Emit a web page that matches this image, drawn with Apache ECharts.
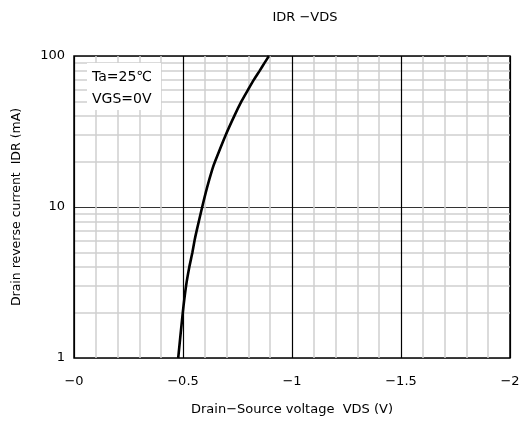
<!DOCTYPE html>
<html>
<head>
<meta charset="utf-8">
<script src="https://cdn.jsdelivr.net/npm/echarts@6/dist/echarts.min.js"></script>
<style>
  html, body { margin: 0; padding: 0; background: #fff; }
  #chart { width: 527px; height: 423px; }
</style>
</head>
<body>
<div id="chart"></div>
<script>
// 曲线数据 (VDS 单位 V, IDR 单位 mA)
const vds = [-0.478, -0.499, -0.514, -0.529, -0.543, -0.553, -0.563, -0.588, -0.610, -0.634, -0.647, -0.696, -0.735, -0.768, -0.799, -0.826, -0.852, -0.874, -0.894];
const idr = [1, 2, 3, 4, 5, 6, 7, 10, 13.4, 17.7, 20, 30, 40, 50, 60, 70, 80, 90, 100];

// 对数坐标的次网格线
const minorY = [2, 3, 4, 5, 6, 7, 8, 9, 20, 30, 40, 50, 60, 70, 80, 90];

// 注释文字
const noteLines = ['Ta=25℃', 'VGS=0V'];

const font = '"DejaVu Sans", "Noto Sans CJK JP", sans-serif';

var myChart = echarts.init(document.getElementById('chart'));

var option = {
    animation: false,
    textStyle: { fontFamily: font },
    title: {
        text: 'IDR −VDS',
        left: 300,
        top: 6,
        textAlign: 'center',
        textStyle: { fontSize: 13, fontWeight: 'normal', color: '#000', fontFamily: font }
    },
    grid: {
        left: 74,
        right: 17,
        top: 56,
        bottom: 65,
        show: true,
        borderColor: '#000',
        borderWidth: 1.5,
        backgroundColor: '#fff'
    },
    xAxis: {
        type: 'value',
        inverse: true,
        min: -2,
        max: 0,
        interval: 0.5,
        z: 2,
        name: 'Drain−Source voltage  VDS (V)',
        nameLocation: 'middle',
        nameGap: 45,
        nameTextStyle: { fontSize: 13, color: '#000', fontFamily: font },
        axisLine: { show: false },
        axisTick: { show: false },
        axisLabel: {
            color: '#000',
            fontSize: 13,
            margin: 17,
            fontFamily: font,
            formatter: function (v) {
                return v === 0 ? '−0' : String(v).replace('-', '−');
            }
        },
        splitLine: { show: true, lineStyle: { color: '#000', width: 1.2 } },
        minorTick: { show: false, splitNumber: 5 },
        minorSplitLine: { show: true, lineStyle: { color: '#cfcfcf', width: 1.5 } }
    },
    yAxis: {
        type: 'log',
        logBase: 10,
        min: 1,
        max: 100,
        z: 2,
        name: 'Drain reverse current  IDR (mA)',
        nameLocation: 'middle',
        nameGap: 51,
        nameTextStyle: { fontSize: 12.5, color: '#000', fontFamily: font },
        axisLine: { show: false },
        axisTick: { show: false },
        axisLabel: { color: '#000', fontSize: 13, margin: 9, fontFamily: font },
        splitLine: { show: true, lineStyle: { color: '#333', width: 1.2 } }
    },
    graphic: [{
        type: 'rect',
        shape: { x: 87, y: 63, width: 74, height: 47 },
        style: { fill: '#fff' },
        z: 10
    }, {
        type: 'text',
        x: 92,
        y: 66,
        style: {
            text: noteLines.join('\n'),
            font: '14px ' + font,
            fill: '#000',
            lineHeight: 22
        },
        z: 11
    }],
    series: [{
        type: 'line',
        data: vds.map((v, i) => [v, idr[i]]),
        smooth: 0.2,
        symbol: 'none',
        z: 5,
        lineStyle: { color: '#000', width: 2.6 },
        markLine: {
            silent: true,
            symbol: 'none',
            z: 1,
            label: { show: false },
            lineStyle: { color: '#cfcfcf', width: 1.5, type: 'solid' },
            data: minorY.map(v => ({ yAxis: v }))
        }
    }]
};

myChart.setOption(option);
</script>
</body>
</html>
